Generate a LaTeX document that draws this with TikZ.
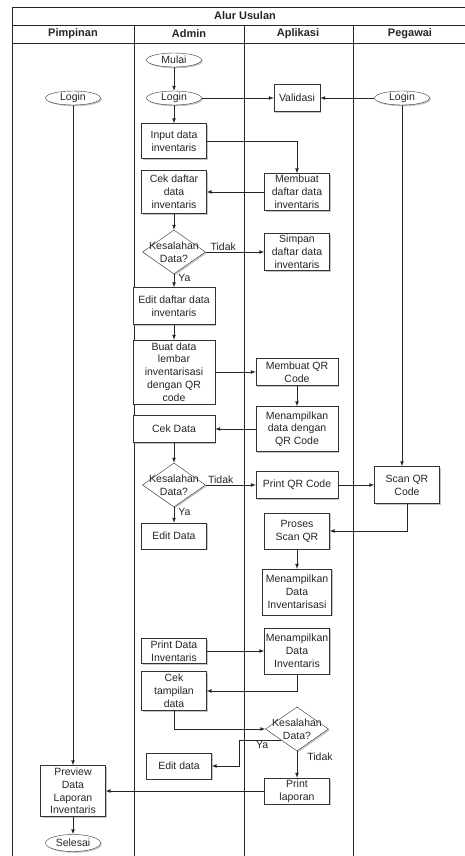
\documentclass[tikz,border=0pt]{standalone}
\usepackage{fontspec}
\setmainfont{Liberation Sans}
\usetikzlibrary{arrows,positioning,shapes,shadows}

\begin{document}
\begin{tikzpicture}[x=1pt,y=1pt,on grid]
	\tikzstyle{item}
	  =[draw=black!80, fill=white, rectangle, align=center, inner sep=1pt,
	  minimum width=65pt, font=\fontsize{10.5}{12.8}\selectfont, text=black!85,
	  drop shadow={shadow xshift=1.3pt, shadow yshift=-1.3pt, opacity=0.45}]
	\tikzstyle{wide}=[item, minimum width=82pt]
	\tikzstyle{terminal}
	  =[item, ellipse, minimum width=55pt, minimum height=14pt, inner sep=0pt]
	\tikzstyle{decision}
	  =[item, diamond, minimum width=63pt, minimum height=44pt, inner sep=0pt]
	\tikzstyle{lane}=[font=\fontsize{11}{13}\selectfont\bfseries, text=black!85]
	\tikzstyle{tag}=[font=\fontsize{10.5}{12.8}\selectfont, text=black!85,
	  align=center, inner sep=1pt]
	\tikzstyle{flow}=[-latex, black!85, line width=0.7pt]

	\useasboundingbox (0,0) rectangle (465,-856);

	% swimlanes
	\draw[black!85, line width=0.8pt] (12,-856)--(12,-7)--(465,-7);
	\draw[black!85, line width=0.8pt] (12,-25)--(465,-25);
	\draw[black!85, line width=0.8pt] (12,-43)--(465,-43);
	\foreach \x in {134,244,353}
	  \draw[black!85, line width=0.8pt] (\x,-25)--(\x,-856);
	\node[lane] (judul) at (245,-16) {Alur Usulan};
	\node[lane] (pimpinan) at (73,-34) {Pimpinan};
	\node[lane] (admin) at (189,-34) {Admin};
	\node[lane] (aplikasi) at (298,-34) {Aplikasi};
	\node[lane] (pegawai) at (410,-34) {Pegawai};

	% admin
	\node[terminal] (mulai) at (174,-60) {Mulai};
	\node[terminal] (loginA)
	  [below=38pt of mulai] {Login};
	\node[item, minimum height=35pt] (input)
	  [below=43pt of loginA] {Input data\\inventaris};
	\node[item, minimum height=43pt] (cekdaftar)
	  [below=51pt of input] {Cek daftar\\data\\inventaris};
	\node[decision, label={[tag]center:{Kesalahan\\Data?}}] (dec1)
	  [below=60pt of cekdaftar] {};
	\node[wide, minimum height=37pt] (editdaftar)
	  [below=54pt of dec1] {Edit daftar data\\inventaris};
	\node[wide, minimum height=64pt] (buat)
	  [below=66pt of editdaftar] {Buat data\\lembar\\inventarisasi\\dengan QR\\code};
	\node[wide, minimum height=27pt] (cekdata)
	  [below=57pt of buat] {Cek Data};
	\node[decision, label={[tag]center:{Kesalahan\\Data?}}] (dec2)
	  [below=56pt of cekdata] {};
	\node[item, minimum height=26pt] (editdata)
	  [below=51pt of dec2] {Edit Data};
	\node[item, minimum height=25pt] (printdata)
	  [below=115pt of editdata] {Print Data\\Inventaris};
	\node[item, minimum height=39pt] (cektampil)
	  [below=40pt of printdata] {Cek\\tampilan\\data};
	\node[item, minimum height=26pt] (editdata2)
	  [below right=75pt and 5pt of cektampil] {Edit data};

	% aplikasi
	\node[item, minimum width=46pt, minimum height=27pt] (validasi)
	  [right=123pt of loginA] {Validasi};
	\node[item, minimum height=37pt] (membuatdaftar)
	  [right=123pt of cekdaftar] {Membuat\\daftar data\\inventaris};
	\node[item, minimum height=37pt] (simpan)
	  [right=123pt of dec1] {Simpan\\daftar data\\inventaris};
	\node[wide, minimum height=27pt] (membuatqr)
	  [right=123pt of buat] {Membuat QR\\Code};
	\node[wide, minimum height=45pt] (tampilqr)
	  [right=123pt of cekdata] {Menampilkan\\data dengan\\QR Code};
	\node[wide, minimum height=27pt] (printqr)
	  [right=123pt of dec2] {Print QR Code};
	\node[item, minimum height=36pt] (proses)
	  [below=46pt of printqr] {Proses\\Scan QR};
	\node[item, minimum width=69pt, minimum height=46pt] (tampilinv)
	  [below=61pt of proses] {Menampilkan\\Data\\Inventarisasi};
	\node[item, minimum height=46pt] (tampilinv2)
	  [right=123pt of printdata] {Menampilkan\\Data\\Inventaris};
	\node[decision, label={[tag]center:{Kesalahan\\Data?}}] (dec3)
	  [below=78pt of tampilinv2] {};
	\node[item, minimum height=26pt] (printlap)
	  [below=62pt of dec3] {Print\\laporan};

	% pegawai
	\node[terminal] (loginG)
	  [right=105pt of validasi] {Login};
	\node[item, minimum height=37pt] (scan)
	  [right=110pt of printqr] {Scan QR\\Code};

	% pimpinan
	\node[terminal] (loginP)
	  [left=101pt of loginA] {Login};
	\node[item, minimum height=51pt] (preview)
	  [left=224pt of printlap] {Preview\\Data\\Laporan\\Inventaris};
	\node[terminal, minimum height=17pt] (selesai)
	  [below=52pt of preview] {Selesai};

	\draw[flow] (mulai)--(loginA);
	\draw[flow] (loginA)--(validasi);
	\draw[flow] (loginG)--(validasi);
	\draw[flow] (loginA)--(input);
	\draw[flow] (input.east)-|(membuatdaftar.north);
	\draw[flow] (membuatdaftar)--(cekdaftar);
	\draw[flow] (cekdaftar)--(dec1);
	\draw[flow] (dec1)--node[tag,above,pos=0.3] (tidak1) {Tidak} (simpan);
	\draw[flow] (dec1)--node[tag,right=3pt,pos=0.3] (ya1) {Ya} (editdaftar);
	\draw[flow] (editdaftar)--(buat);
	\draw[flow] (buat)--(membuatqr);
	\draw[flow] (membuatqr)--(tampilqr);
	\draw[flow] (tampilqr)--(cekdata);
	\draw[flow] (cekdata)--(dec2);
	\draw[flow] (dec2)--node[tag,above,pos=0.3] (tidak2) {Tidak} (printqr);
	\draw[flow] (dec2)--node[tag,right=3pt,pos=0.3] (ya2) {Ya} (editdata);
	\draw[flow] (printqr)--(scan);
	\draw[flow] (loginG)--(loginG|-scan.north);
	\draw[flow] (scan.south)|-(proses.east);
	\draw[flow] (proses)--(tampilinv);
	\draw[flow] (printdata)--(tampilinv2);
	\draw[flow] (tampilinv2.south)|-(cektampil.east);
	\draw[flow] (cektampil.south)|-(dec3.west);
	\draw[flow] (dec3.south west)--node[tag,below,pos=0.45] (ya3) {Ya} ++(-42pt,0)
	  |-(editdata2.east);
	\draw[flow] (dec3)--node[tag,right=9pt,pos=0.2] (tidak3) {Tidak} (printlap);
	\draw[flow] (printlap)--(preview);
	\draw[flow] (loginP)--(preview);
	\draw[flow] (preview)--(selesai);
\end{tikzpicture}
\end{document}
